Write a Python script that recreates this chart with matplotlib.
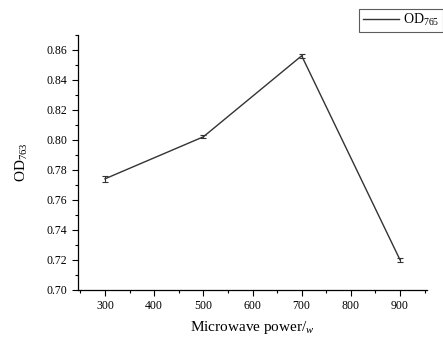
import matplotlib
matplotlib.use("Agg")
import matplotlib.pyplot as plt
from matplotlib.ticker import MultipleLocator

power = [300, 500, 700, 900]
od = [0.774, 0.802, 0.856, 0.720]
err = [0.002, 0.001, 0.0015, 0.0015]
xticks = [300, 400, 500, 600, 700, 800, 900]
yticks = [0.70, 0.72, 0.74, 0.76, 0.78, 0.80, 0.82, 0.84, 0.86]

plt.rcParams['font.family'] = ['Liberation Serif', 'DejaVu Serif']
plt.rcParams['mathtext.fontset'] = 'custom'
plt.rcParams['mathtext.rm'] = 'Liberation Serif'
plt.rcParams['mathtext.it'] = 'Liberation Serif:italic'

fig = plt.figure(figsize=(4.43, 3.41), dpi=100)
ax = fig.add_axes([0.176, 0.150, 0.788, 0.748])

line = ax.errorbar(power, od, yerr=err, color='#333333', lw=1.0, capsize=2,
                   elinewidth=0.8, capthick=0.8, label='OD$_{765}$')

ax.set_xlim(245, 955)
ax.set_ylim(0.70, 0.87)
ax.set_xticks(xticks)
ax.set_yticks(yticks)
ax.set_yticklabels([f"{v:.2f}" for v in yticks])
ax.xaxis.set_minor_locator(MultipleLocator(50))
ax.yaxis.set_minor_locator(MultipleLocator(0.01))
ax.tick_params(which='major', direction='out', length=4, width=0.8, labelsize=8.5)
ax.tick_params(which='minor', direction='out', length=2, width=0.8)
for s in ['top', 'right']:
    ax.spines[s].set_visible(False)
for s in ['left', 'bottom']:
    ax.spines[s].set_linewidth(0.9)

ax.set_xlabel('Microwave power/$_{\\mathit{w}}$', fontsize=11, labelpad=5)
ax.set_ylabel('OD$_{\\mathit{763}}$', fontsize=11, labelpad=12)

leg = fig.legend(handles=[line.lines[0]], labels=['OD$_{\\mathit{765}}$'],
                 loc='upper right', bbox_to_anchor=(1.0, 0.975),
                 frameon=True, fancybox=False, fontsize=10,
                 handlelength=2.6, borderpad=0.25, handletextpad=0.3,
                 borderaxespad=0.0)
leg.get_frame().set_edgecolor('#333333')
leg.get_frame().set_linewidth(0.8)

fig.savefig('out.png', dpi=100)
